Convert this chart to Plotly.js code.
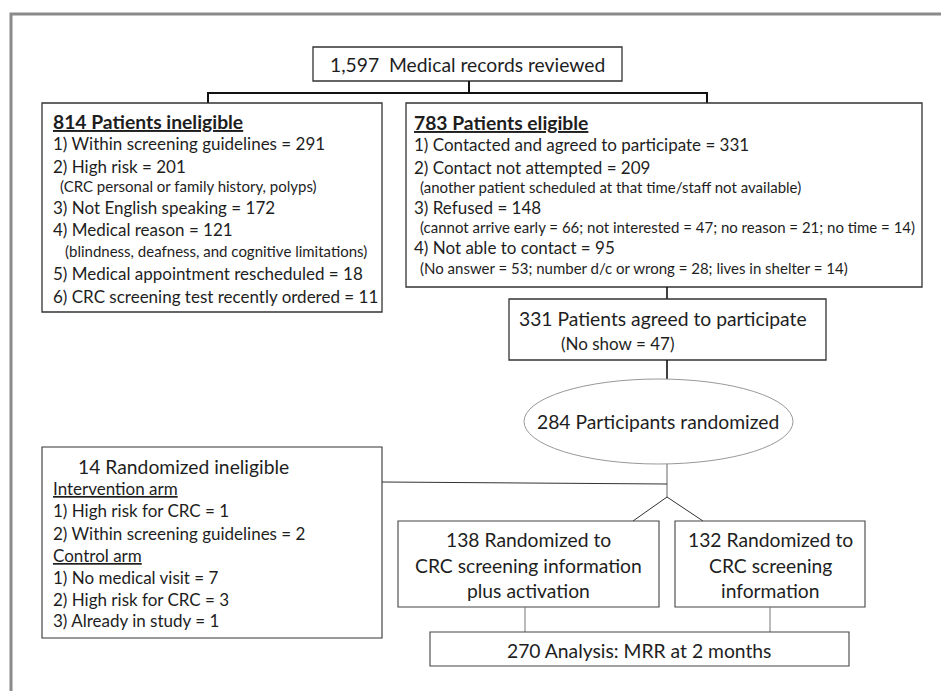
<!DOCTYPE html>
<html>
<head>
<meta charset="utf-8">
<script src="https://cdn.plot.ly/plotly-3.0.1.min.js"></script>
<style>html,body{margin:0;padding:0;background:#fff;}#chart{width:941px;height:691px;}</style>
</head>
<body>
<div id="chart"></div>
<script>
// ---------------- DATA ----------------
const reviewedCount = 1597;
const reviewedLabel = "Medical records reviewed";

const ineligibleCount = 814;
const ineligibleTitle = "Patients ineligible";
const ineligibleReasons = ["Within screening guidelines", "High risk", "Not English speaking", "Medical reason", "Medical appointment rescheduled", "CRC screening test recently ordered"];
const ineligibleCounts = [291, 201, 172, 121, 18, 11];
const ineligibleNotes = ["", "(CRC personal or family history, polyps)", "", "(blindness, deafness, and cognitive limitations)", "", ""];

const eligibleCount = 783;
const eligibleTitle = "Patients eligible";
const eligibleReasons = ["Contacted and agreed to participate", "Contact not attempted", "Refused", "Not able to contact"];
const eligibleCounts = [331, 209, 148, 95];
const notAttemptedNote = "another patient scheduled at that time/staff not available";
const refusedReasons = ["cannot arrive early", "not interested", "no reason", "no time"];
const refusedCounts = [66, 47, 21, 14];
const noContactReasons = ["No answer", "number d/c or wrong", "lives in shelter"];
const noContactCounts = [53, 28, 14];

const agreedCount = 331;
const agreedLabel = "Patients agreed to participate";
const noShowCount = 47;

const randomizedCount = 284;
const randomizedLabel = "Participants randomized";

const randIneligibleCount = 14;
const randIneligibleLabel = "Randomized ineligible";
const interventionReasons = ["High risk for CRC", "Within screening guidelines"];
const interventionCounts = [1, 2];
const controlReasons = ["No medical visit", "High risk for CRC", "Already in study"];
const controlCounts = [7, 3, 1];

const armCounts = [138, 132];
const armLabels = [["Randomized to", "CRC screening information", "plus activation"], ["Randomized to", "CRC screening", "information"]];

const analysisCount = 270;
const analysisLabel = "Analysis: MRR at 2 months";

// ---------------- STYLE / GEOMETRY ----------------
const FONT = "Lato, 'Open Sans', sans-serif";
const TXT = "#1e1e1e";
const S_MAIN = 19.3, S_LIST = 17, S_NOTE = 15;
const NB = "\u00a0";

const shapes = [];
const annotations = [];

function rect(x0, y0, x1, y1, color, w) {
  shapes.push({type: "rect", xref: "x", yref: "y", x0, y0, x1, y1, line: {color, width: w}, fillcolor: "rgba(0,0,0,0)", layer: "above"});
}
function line(x0, y0, x1, y1, color, w) {
  shapes.push({type: "line", xref: "x", yref: "y", x0, y0, x1, y1, line: {color, width: w}, layer: "above"});
}
function txt(x, y, text, size, anchor) {
  annotations.push({x, y, xref: "x", yref: "y", text, showarrow: false, xanchor: anchor || "left", yanchor: "middle",
    font: {family: FONT, size, color: TXT}, align: anchor === "center" ? "center" : "left"});
}
const eq = (label, n) => label + " = " + n;

// Outer frame
shapes.push({type: "path", xref: "x", yref: "y", path: "M 11 700 L 11 14 L 950 14", line: {color: "#8a8a8a", width: 3}, layer: "below"});

// Top box
rect(313, 47, 622, 81, "#333", 1.3);
txt(467, 64.5, reviewedCount.toLocaleString("en-US") + NB + NB + reviewedLabel, S_MAIN, "center");
line(469, 81, 469, 93, "#111", 2);
line(207, 93, 708, 93, "#111", 2.2);
line(208, 92, 208, 103, "#111", 2);
line(707, 92, 707, 103, "#111", 2);

// Ineligible box
rect(42, 103, 382, 312, "#333", 1.3);
txt(51, 121, "<b><u>" + ineligibleCount + " " + ineligibleTitle + "</u></b>", S_MAIN);
const inelY = [143, 166, 207, 229, 273, 296];
const inelNoteY = [0, 186, 0, 251, 0, 0];
const inelNoteX = [0, 58, 0, 63, 0, 0];
ineligibleReasons.forEach((r, i) => {
  txt(51, inelY[i], (i + 1) + ") " + eq(r, ineligibleCounts[i]), S_LIST);
  if (ineligibleNotes[i]) txt(inelNoteX[i], inelNoteY[i], ineligibleNotes[i], S_NOTE);
});

// Eligible box
rect(406, 103, 922, 287, "#333", 1.3);
txt(412, 122, "<b><u>" + eligibleCount + " " + eligibleTitle + "</u></b>", S_MAIN);
const eligY = [144, 167, 207, 247];
const eligNoteY = [0, 187, 227, 268];
const eligNotes = [
  "",
  "(" + notAttemptedNote + ")",
  "(" + refusedReasons.map((r, i) => eq(r, refusedCounts[i])).join("; ") + ")",
  "(" + noContactReasons.map((r, i) => eq(r, noContactCounts[i])).join("; ") + ")"
];
eligibleReasons.forEach((r, i) => {
  txt(412, eligY[i], (i + 1) + ") " + eq(r, eligibleCounts[i]), S_LIST);
  if (eligNotes[i]) txt(418, eligNoteY[i], eligNotes[i], S_NOTE);
});

// Agreed box
line(667, 287, 667, 299, "#111", 1.6);
rect(509, 299, 826, 360, "#333", 1.3);
txt(517, 318, agreedCount + " " + agreedLabel, S_MAIN);
txt(559, 343, "(" + eq("No show", noShowCount) + ")", S_LIST);
line(667, 360, 667, 379, "#111", 1.6);

// Ellipse
shapes.push({type: "circle", xref: "x", yref: "y", x0: 524, y0: 379, x1: 793, y1: 464, line: {color: "#8c8c8c", width: 0.9}, fillcolor: "rgba(0,0,0,0)", layer: "above"});
txt(658, 421, randomizedCount + " " + randomizedLabel, S_MAIN, "center");

// Connectors below ellipse
line(667, 464, 667, 497, "#666", 1);
line(382, 482, 667, 484, "#333", 1);
line(667, 497, 633, 521, "#333", 1);
line(667, 497, 703, 521, "#333", 1);

// Randomized ineligible box
rect(42, 447, 382, 638, "#333", 1.1);
txt(76, 466, randIneligibleCount + " " + randIneligibleLabel, S_MAIN);
txt(51, 488, "<u>Intervention arm</u>", S_LIST);
interventionReasons.forEach((r, i) => txt(51, [510, 533][i], (i + 1) + ") " + eq(r, interventionCounts[i]), S_LIST));
txt(51, 555, "<u>Control arm</u>", S_LIST);
controlReasons.forEach((r, i) => txt(51, [577, 599, 620][i], (i + 1) + ") " + eq(r, controlCounts[i]), S_LIST));

// Arm boxes
const armBox = [[398, 659], [675, 865]];
armCounts.forEach((n, k) => {
  const [a, b] = armBox[k];
  rect(a, 521, b, 607, "#444", 1.1);
  const cx = (a + b) / 2;
  armLabels[k].forEach((l, j) => txt(cx, [539, 565, 590][j], j === 0 ? n + " " + l : l, S_MAIN, "center"));
});
line(525, 607, 525, 632, "#777", 1);
line(770, 607, 770, 632, "#777", 1);

// Analysis box
rect(430, 632, 849, 666, "#444", 1.1);
txt(639, 650, analysisCount + " " + analysisLabel, S_MAIN, "center");

const layout = {
  width: 941, height: 691,
  margin: {l: 0, r: 0, t: 0, b: 0, pad: 0},
  paper_bgcolor: "#fff", plot_bgcolor: "#fff",
  xaxis: {range: [0, 941], visible: false, fixedrange: true},
  yaxis: {range: [691, 0], visible: false, fixedrange: true},
  showlegend: false,
  shapes, annotations
};
Plotly.newPlot("chart", [{type: "scatter", x: [], y: [], hoverinfo: "skip"}], layout, {staticPlot: true, displayModeBar: false});
</script>
</body>
</html>
